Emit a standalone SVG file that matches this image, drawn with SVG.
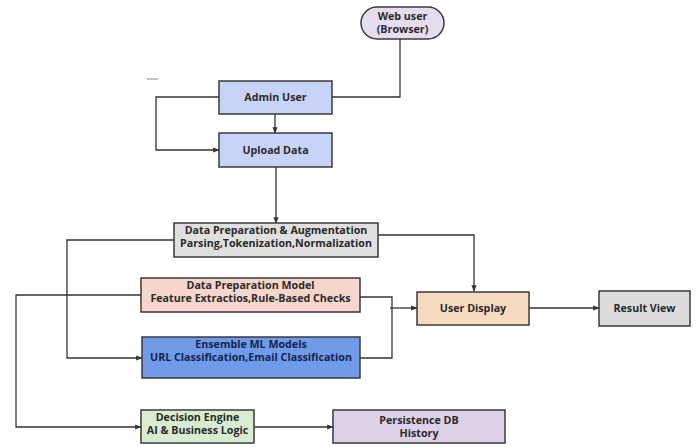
<svg xmlns="http://www.w3.org/2000/svg" width="696" height="447" viewBox="0 0 696 447">
<defs>
<marker id="ah" viewBox="0 0 10 10" refX="9" refY="5" markerWidth="5" markerHeight="5" orient="auto-start-reverse"><path d="M0,1 L10,5 L0,9 z" fill="#333"/></marker>
<style>
.box{stroke:#3a3a3a;stroke-width:1.5}
.t{font-family:"Open Sans","Liberation Sans",sans-serif;font-weight:bold;font-size:10.7px;fill:#2a2a2a;text-anchor:middle}
.c{fill:none;stroke:#333;stroke-width:1.3}
.a{marker-end:url(#ah)}
</style>
</defs>
<rect width="696" height="447" fill="#fff"/>
<g id="connectors">
<path class="c" d="M400,39 V97 H332"/>
<path class="c a" d="M275,114 V133"/>
<path class="c a" d="M219,97 H156 V150 H219"/>
<path class="c a" d="M276,167 V223"/>
<path class="c a" d="M174,240 H67 V358 H142"/>
<path class="c a" d="M141,295 H16 V427 H141"/>
<path class="c a" d="M378,235 H474 V291"/>
<path class="c" d="M360,297 H392 V358 H360"/>
<path class="c a" d="M390,308 H417"/>
<path class="c a" d="M529,308 H599"/>
<path class="c a" d="M254,427 H333"/>
<path d="M147,79 H158" stroke="#888" stroke-width="1"/>
</g>
<g id="web-user"><rect class="box" x="361" y="7" width="83" height="32" rx="16" fill="#e6ddf0"/><text class="t" x="402.5" y="20">Web user</text><text class="t" x="402.5" y="33">(Browser)</text></g>
<g id="admin-user"><rect class="box" x="219" y="81" width="113" height="33" fill="#c9d3f7"/><text class="t" x="275.5" y="101">Admin User</text></g>
<g id="upload-data"><rect class="box" x="219" y="133" width="113" height="34" fill="#c9d3f7"/><text class="t" x="275.5" y="154">Upload Data</text></g>
<g id="data-prep-aug"><rect class="box" x="174" y="223" width="204" height="34" fill="#e0e0e0"/><text class="t" x="276" y="234">Data Preparation &amp; Augmentation</text><text class="t" x="276" y="247">Parsing,Tokenization,Normalization</text></g>
<g id="data-prep-model"><rect class="box" x="141" y="278" width="219" height="34" fill="#f6d6cc"/><text class="t" x="250.5" y="289">Data Preparation Model</text><text class="t" x="250.5" y="302">Feature Extractios,Rule-Based Checks</text></g>
<g id="ensemble"><rect class="box" x="142" y="337" width="218" height="41" fill="#6f9be8"/><text class="t" x="251" y="348" style="fill:#14244e">Ensemble ML Models</text><text class="t" x="251" y="361" style="fill:#14244e">URL Classification,Email Classification</text></g>
<g id="user-display"><rect class="box" x="417" y="292" width="112" height="33" fill="#f6dbbf"/><text class="t" x="473" y="312">User Display</text></g>
<g id="result-view"><rect class="box" x="599" y="291" width="91" height="35" fill="#dcdcdc"/><text class="t" x="644.5" y="312">Result View</text></g>
<g id="decision-engine"><rect class="box" x="141" y="410" width="113" height="33" fill="#d9ecd1"/><text class="t" x="197.5" y="421">Decision Engine</text><text class="t" x="197.5" y="434">AI &amp; Business Logic</text></g>
<g id="persistence"><rect class="box" x="333" y="410" width="172" height="33" fill="#dcd1e8"/><text class="t" x="419" y="424">Persistence DB</text><text class="t" x="419" y="437">History</text></g>
</svg>
